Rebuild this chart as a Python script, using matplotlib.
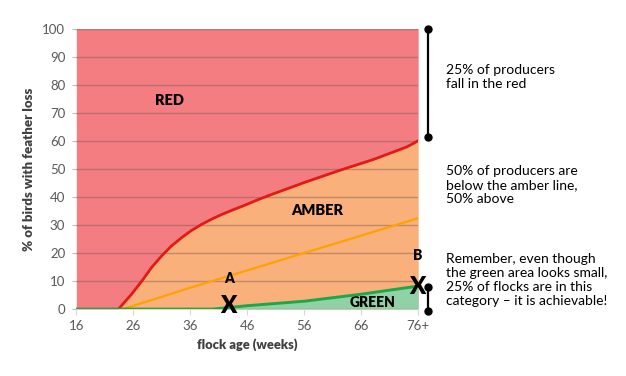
import numpy as np
import matplotlib.pyplot as plt

plt.rcParams['font.family'] = ['Lato', 'DejaVu Sans']

# data
red_weeks = [16, 23.4, 25.7, 27.5, 29.2, 31, 32.7, 34.5, 36.2, 38, 39.8, 41.5, 43.4, 45.3, 48, 50.6, 56.4, 62.3, 68.1, 74, 76]
red_line = [0, 0, 5.3, 10, 14.8, 19, 22.5, 25.5, 28, 30.2, 32.1, 33.7, 35.3, 36.8, 39.1, 41.1, 45.4, 49.5, 53.3, 57.8, 60]
amber_weeks = [24.2, 36, 46, 56, 66, 76]
amber_line = [0, 7.6, 13.8, 20, 26.2, 32.4]
green_weeks = [16, 40, 46, 56, 66, 76]
green_line = [0, 0, 1.2, 2.8, 5.3, 8.2]

xticks = [16, 26, 36, 46, 56, 66, 76]
xticklabels = ['16', '26', '36', '46', '56', '66', '76+']
yticks = list(range(0, 101, 10))

notes = ['25% of producers\nfall in the red',
         '50% of producers are\nbelow the amber line,\n50% above',
         'Remember, even though\nthe green area looks small,\n25% of flocks are in this\ncategory \u2013 it is achievable!']

fig = plt.figure(figsize=(6.26, 3.76), dpi=100)
ax = fig.add_axes([0.1219, 0.178, 0.5461, 0.746])

# filled zones
ax.fill_between(red_weeks, red_line, 100, color='#F37D80', lw=0, zorder=1)
ax.fill_between(red_weeks, 0, red_line, color='#FAB07B', lw=0, zorder=1)
ax.fill_between(green_weeks, 0, green_line, color='#90D2A6', lw=0, zorder=1.2)

# lines
ax.plot(red_weeks[1:], red_line[1:], color='#E31A14', lw=2.0, zorder=3, solid_joinstyle='round')
ax.plot(amber_weeks, amber_line, color='#FFA200', lw=1.6, zorder=3)
ax.plot(green_weeks, green_line, color='#1FA64A', lw=2.1, zorder=3.2)

ax.set_xlim(16, 76)
ax.set_ylim(0, 100)
ax.set_xticks(xticks)
ax.set_xticklabels(xticklabels)
ax.set_yticks(yticks)
ax.set_axisbelow(False)
ax.yaxis.grid(True, color='#7A5A5A', alpha=0.45, lw=1)
ax.tick_params(axis='y', length=3, color='#BFBFBF', pad=5, labelsize=9.5, labelcolor='#595959')
ax.tick_params(axis='x', length=4, color='#D9D9D9', pad=4, labelsize=9.5, labelcolor='#595959')
for s in ax.spines.values():
    s.set_visible(False)

ax.set_xlabel('flock age (weeks)', fontsize=9.3, fontweight='heavy', color='#404040', labelpad=4)
ax.set_ylabel('% of birds with feather loss', fontsize=9.5, fontweight='heavy', color='#404040', labelpad=5)

# zone labels and markers
ax.text(32.4, 74.3, 'RED', fontsize=10.5, fontweight='heavy', ha='center', va='center')
ax.text(58.2, 35, 'AMBER', fontsize=10.5, fontweight='heavy', ha='center', va='center')
ax.text(68, 2.3, 'GREEN', fontsize=10, fontweight='heavy', ha='center', va='center')
ax.text(42.8, 11, 'A', fontsize=10, fontweight='heavy', ha='center', va='center')
ax.text(76, 19, 'B', fontsize=10, fontweight='heavy', ha='center', va='center', clip_on=False)
ax.text(42.7, 1.0, 'X', fontsize=17, fontweight='heavy', ha='center', va='center', clip_on=False, zorder=5)
ax.text(75.8, 7.9, 'X', fontsize=17, fontweight='heavy', ha='center', va='center', clip_on=False, zorder=5)

# brackets on the right
ax.plot([77.7, 77.7], [100, 61.5], color='black', lw=1.6, marker='o', ms=5, clip_on=False, zorder=5)
ax.plot([77.7, 77.7], [7.8, -0.6], color='black', lw=1.6, marker='o', ms=5, clip_on=False, zorder=5)

fig.text(0.7125, 0.795, notes[0], fontsize=10, va='center', ha='left', linespacing=1.2)
fig.text(0.7125, 0.508, notes[1], fontsize=10, va='center', ha='left', linespacing=1.2)
fig.text(0.7125, 0.255, notes[2], fontsize=10, va='center', ha='left', linespacing=1.2)

fig.savefig('out.png', dpi=100)
